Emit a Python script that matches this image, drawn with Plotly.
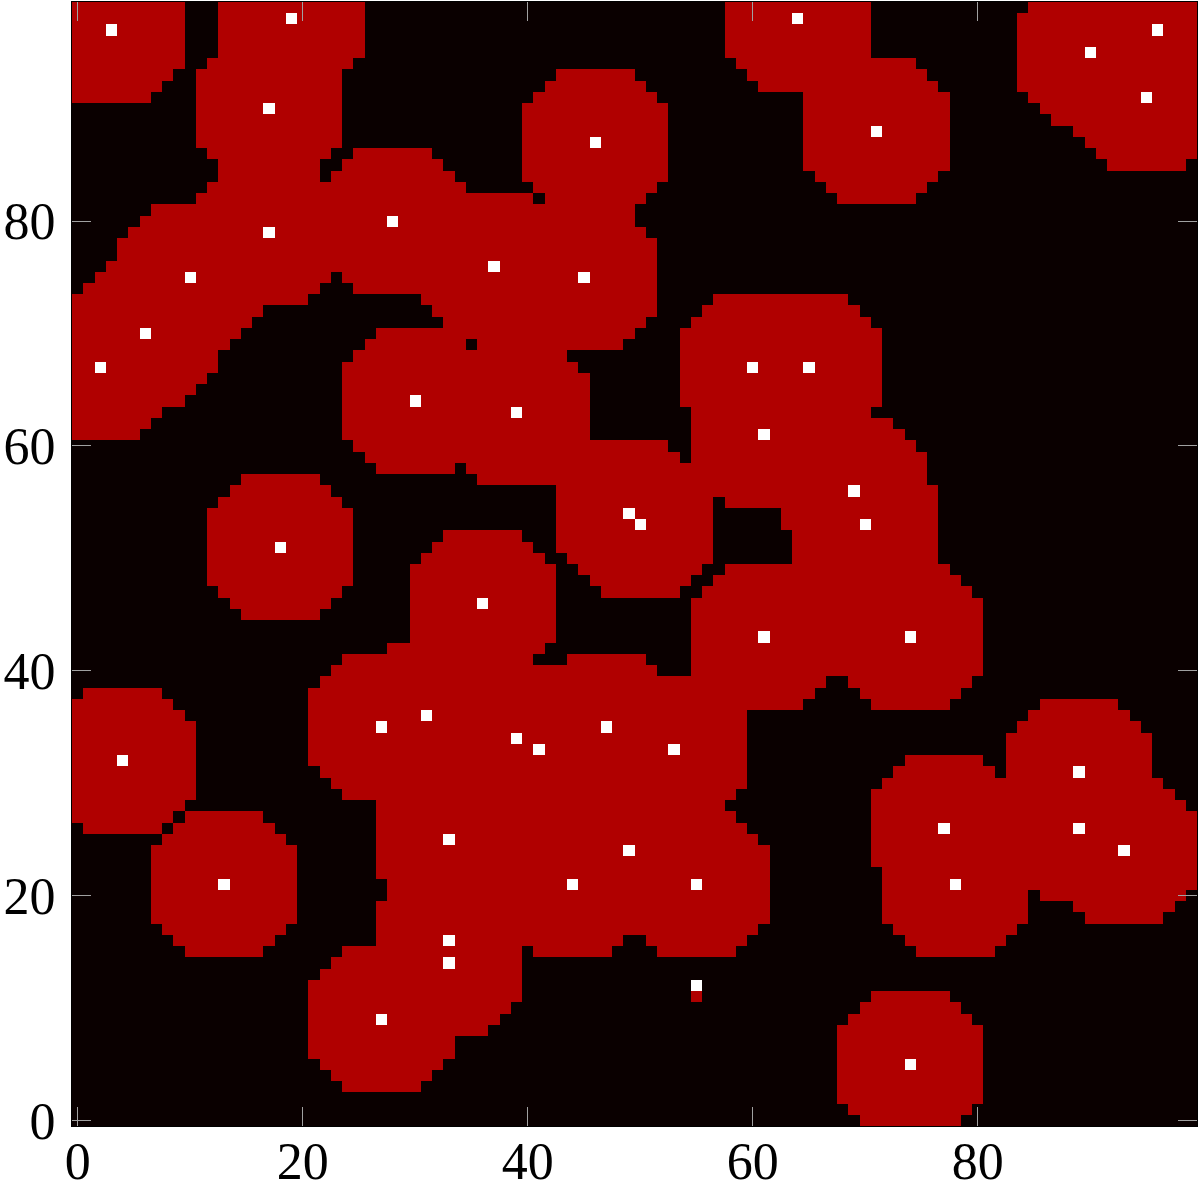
import numpy as np
import plotly.graph_objects as go

# white points (grid cells)
dot_x = [3, 19, 17, 46, 64, 71, 90, 96, 95, 28, 17, 10, 37, 45, 6, 2, 60, 65, 30, 39,
         61, 69, 70, 49, 50, 18, 36, 61, 74, 27, 31, 39, 41, 47, 53, 4, 89, 77, 89, 93,
         33, 49, 13, 44, 55, 78, 33, 33, 55, 27, 74]
dot_y = [97, 98, 90, 87, 98, 88, 95, 97, 91, 80, 79, 75, 76, 75, 70, 67, 67, 67, 64, 63,
         61, 56, 53, 54, 53, 51, 46, 43, 43, 35, 36, 34, 33, 35, 33, 32, 31, 26, 26, 24,
         25, 24, 21, 21, 21, 21, 16, 14, 12, 9, 5]

# red coverage disks (centre + squared radius in cells)
disk_x = [x for x, y in zip(dot_x, dot_y) if (x, y) != (55, 12)] + [55]
disk_y = [y for x, y in zip(dot_x, dot_y) if (x, y) != (55, 12)] + [11]
disk_r2 = [45] * (len(dot_x) - 1) + [0]

n = 100
gx, gy = np.meshgrid(np.arange(n), np.arange(n))
z = np.zeros((n, n))
for cx, cy, r2 in zip(disk_x, disk_y, disk_r2):
    z[(gx - cx) ** 2 + (gy - cy) ** 2 <= r2] = 1
for px, py in zip(dot_x, dot_y):
    z[py, px] = 2

colorscale = [
    [0.0, '#0a0000'], [0.333, '#0a0000'],
    [0.333, '#b00000'], [0.667, '#b00000'],
    [0.667, '#ffffff'], [1.0, '#ffffff'],
]

fig = go.Figure(go.Heatmap(
    z=z, x=np.arange(n), y=np.arange(n),
    zmin=0, zmax=2, colorscale=colorscale, showscale=False,
))

axis_style = dict(
    range=[-0.5, 99.5],
    tickvals=[0, 20, 40, 60, 80],
    ticks='inside', ticklen=19, tickwidth=1, tickcolor='#a0a0a0',
    showgrid=False, zeroline=False, automargin=False,
    showline=True, linecolor='black', linewidth=1, mirror='ticks',
)

fig.update_xaxes(ticklabelstandoff=-10, **axis_style)
fig.update_yaxes(ticklabelstandoff=5, **axis_style)

fig.update_layout(
    width=1200, height=1183,
    margin=dict(l=72, r=3, t=2, b=57),
    paper_bgcolor='white', plot_bgcolor='#0a0000',
    font=dict(family='Liberation Serif, DejaVu Serif, serif', size=52, color='black'),
)

# drop the default page margin so the figure sits at the window corner
fig.write_html(
    "out.html",
    config={'displayModeBar': False},
    post_script="document.body.style.margin='0';document.body.style.overflow='hidden';",
)
